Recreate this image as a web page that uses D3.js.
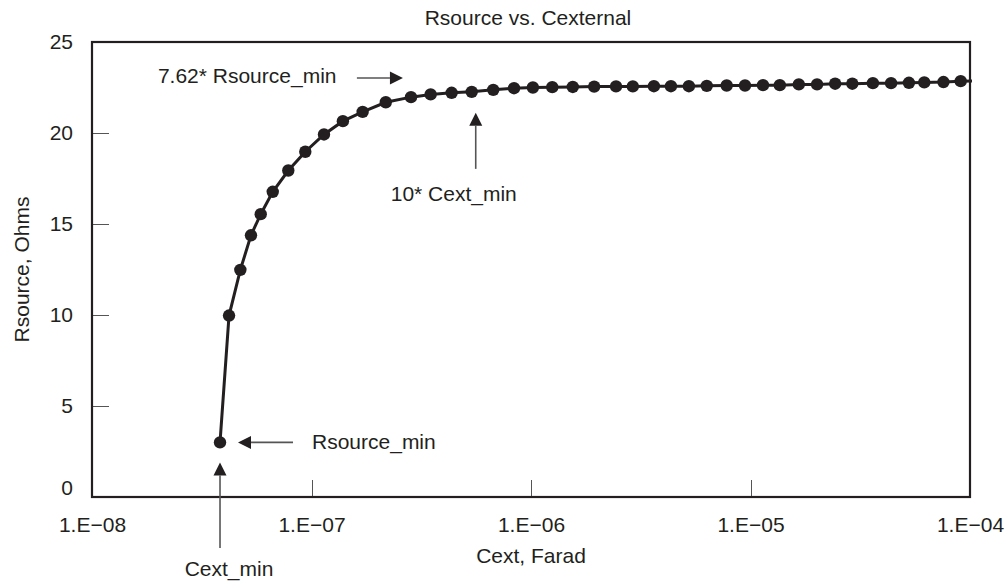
<!DOCTYPE html>
<html>
<meta charset="utf-8">
<style>
  body { margin: 0; background: #fff; }
  svg { width: 1008px; height: 581px; display: block; }
  text { font-family: "Liberation Sans", Arial, sans-serif; fill: #231f20; }
  .axis path { display: none; }
  .axis line { stroke: #555; stroke-width: 1; shape-rendering: crispEdges; }
  .axis text { font-size: 21px; }
</style>
<body>
  <svg></svg>
</body>
<script src="https://cdn.jsdelivr.net/npm/d3@7"></script>
<script>

var cext = [3.83e-8, 4.21e-8, 4.74e-8, 5.30e-8, 5.87e-8, 6.66e-8, 7.84e-8, 9.37e-8,
            1.14e-7, 1.39e-7, 1.71e-7, 2.18e-7, 2.84e-7, 3.49e-7, 4.35e-7, 5.37e-7,
            6.73e-7, 8.37e-7, 1.02e-6, 1.25e-6, 1.55e-6, 1.94e-6, 2.44e-6, 2.91e-6,
            3.63e-6, 4.34e-6, 5.24e-6, 6.32e-6, 7.79e-6, 9.44e-6, 1.14e-5, 1.36e-5,
            1.66e-5, 2.01e-5, 2.43e-5, 2.91e-5, 3.61e-5, 4.37e-5, 5.27e-5, 6.19e-5,
            7.57e-5, 9.07e-5, 1.11e-4];
var rsource = [3.0, 9.97, 12.48, 14.38, 15.54, 16.77, 17.94, 18.97,
               19.92, 20.65, 21.16, 21.69, 21.97, 22.12, 22.21, 22.26,
               22.37, 22.46, 22.50, 22.52, 22.53, 22.55, 22.56, 22.56,
               22.57, 22.57, 22.57, 22.59, 22.61, 22.61, 22.63, 22.63,
               22.67, 22.67, 22.71, 22.71, 22.74, 22.74, 22.76, 22.78,
               22.80, 22.85, 22.87];

var xTicks = [1e-8, 1e-7, 1e-6, 1e-5, 1e-4];
var xTickLabels = ["1.E\u221208", "1.E\u221207", "1.E\u221206", "1.E\u221205", "1.E\u221204"];
var yTicks = [0, 5, 10, 15, 20, 25];

var margin = {top: 42, right: 38, bottom: 84, left: 92},
    width = 1008 - margin.left - margin.right,
    height = 581 - margin.top - margin.bottom;

var svg = d3.select("svg")
  .append("g").attr("transform", "translate(" + margin.left + "," + margin.top + ")");

var xScale = d3.scaleLog().domain([1e-8, 1e-4]).range([0, width]);
var yScale = d3.scaleLinear().domain([0, 25]).range([height, 0]);

// ticks point inward, no ticks at the frame edges
var xAxis = d3.axisBottom(xScale).tickValues(xTicks)
  .tickSizeInner(-17).tickSizeOuter(0).tickPadding(20)
  .tickFormat(function(d, i) { return xTickLabels[i]; });
var yAxis = d3.axisLeft(yScale).tickValues(yTicks)
  .tickSizeInner(-17).tickSizeOuter(0).tickPadding(19);

var gx = svg.append("g").attr("class", "x axis")
  .attr("transform", "translate(0," + height + ")").call(xAxis);
gx.selectAll(".tick line").filter(function(d) { return d == 1e-8 || d == 1e-4; }).remove();

var gy = svg.append("g").attr("class", "y axis").call(yAxis);
gy.selectAll(".tick line").filter(function(d) { return d == 0 || d == 25; }).remove();
gy.selectAll(".tick text").filter(function(d) { return d == 0; }).attr("dy", "-0.14em");

// frame
svg.append("rect")
  .attr("width", width).attr("height", height)
  .attr("fill", "none").attr("stroke", "#231f20").attr("stroke-width", 2.2);

svg.append("clipPath").attr("id", "plot")
  .append("rect").attr("x", -10).attr("y", -10).attr("width", width + 12).attr("height", height + 20);

var data = cext.map(function(c, i) { return [c, rsource[i]]; });

var line = d3.line()
  .x(function(d) { return xScale(d[0]); })
  .y(function(d) { return yScale(d[1]); });

var curve = svg.append("g").attr("clip-path", "url(#plot)");
curve.append("path").datum(data)
  .attr("d", line)
  .attr("fill", "none").attr("stroke", "#231f20").attr("stroke-width", 3);

curve.selectAll("circle")
  .data(data.filter(function(d) { return d[0] <= 1e-4; }))
  .enter().append("circle")
    .attr("cx", function(d) { return xScale(d[0]); })
    .attr("cy", function(d) { return yScale(d[1]); })
    .attr("r", 6.2)
    .attr("fill", "#231f20");

// titles
d3.select("svg").append("text")
  .attr("x", 528).attr("y", 25).attr("text-anchor", "middle")
  .style("font-size", "21px").text("Rsource vs. Cexternal");

svg.append("text")
  .attr("x", width / 2).attr("y", height + 66).attr("text-anchor", "middle")
  .style("font-size", "21px").text("Cext, Farad");

svg.append("text")
  .attr("transform", "translate(-63," + (height / 2) + ") rotate(-90)")
  .attr("text-anchor", "middle")
  .style("font-size", "21px").text("Rsource, Ohms");

// annotations
function arrow(x1, y1, x2, y2) {
  var a = Math.atan2(y2 - y1, x2 - x1), L = 13, W = 6.5;
  svg.append("line")
    .attr("x1", x1).attr("y1", y1)
    .attr("x2", x2 - Math.cos(a) * L).attr("y2", y2 - Math.sin(a) * L)
    .attr("stroke", "#555").attr("stroke-width", 1.6);
  var bx = x2 - Math.cos(a) * L, by = y2 - Math.sin(a) * L;
  svg.append("path")
    .attr("d", "M" + x2 + "," + y2 +
      "L" + (bx - Math.sin(a) * W) + "," + (by + Math.cos(a) * W) +
      "L" + (bx + Math.sin(a) * W) + "," + (by - Math.cos(a) * W) + "Z")
    .attr("fill", "#231f20");
}

var cMin = cext[0], rMin = rsource[0];

// Rsource_min
arrow(xScale(cMin) + 73, yScale(rMin), xScale(cMin) + 18, yScale(rMin));
svg.append("text").attr("x", xScale(cMin) + 92).attr("y", yScale(rMin) + 7)
  .style("font-size", "21px").text("Rsource_min");

// Cext_min
arrow(xScale(cMin), height + 51, xScale(cMin), yScale(rMin) + 20);
svg.append("text").attr("x", xScale(cMin) + 9).attr("y", height + 79)
  .attr("text-anchor", "middle").style("font-size", "21px").text("Cext_min");

// 7.62* Rsource_min
var rTop = 7.62 * rMin;
arrow(xScale(1.61e-7), yScale(rTop) - 3, xScale(2.61e-7), yScale(rTop) - 3);
svg.append("text").attr("x", xScale(1.61e-7) - 199).attr("y", yScale(rTop) + 2)
  .style("font-size", "21px").text("7.62* Rsource_min");

// 10* Cext_min
var cTen = 5.6e-7;
arrow(xScale(cTen), yScale(rsource[15]) + 77, xScale(cTen), yScale(rsource[15]) + 21);
svg.append("text").attr("x", xScale(cTen) - 85).attr("y", yScale(rsource[15]) + 109)
  .style("font-size", "21px").text("10* Cext_min");

</script>
</html>
